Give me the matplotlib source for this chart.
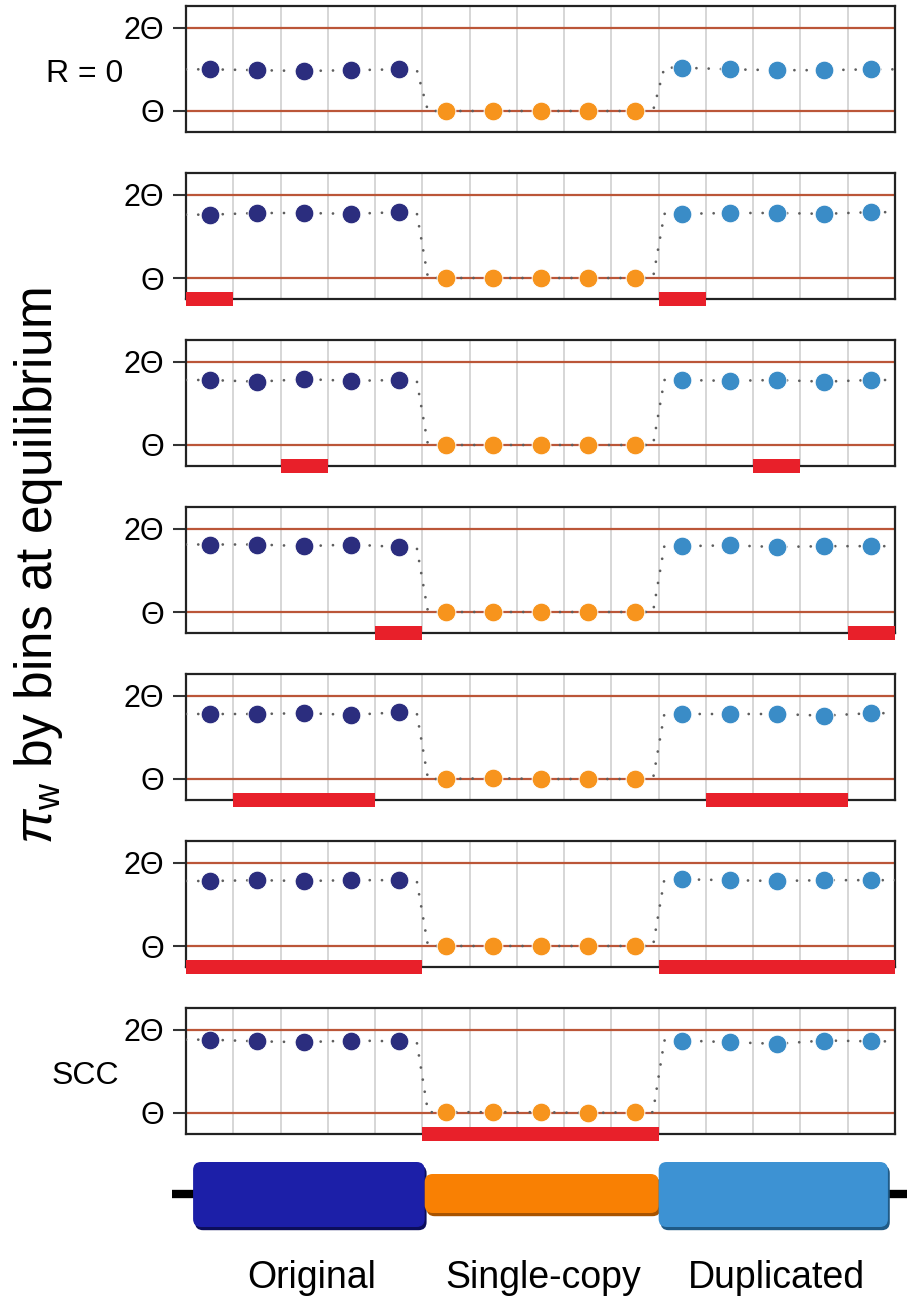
import numpy as np
import matplotlib.pyplot as plt
from matplotlib.patches import Rectangle, FancyBboxPatch

plt.rcParams['font.family'] = ['Liberation Sans', 'DejaVu Sans']
plt.rcParams['mathtext.fontset'] = 'custom'
plt.rcParams['mathtext.rm'] = 'Liberation Sans'
plt.rcParams['mathtext.it'] = 'Liberation Sans:italic'

# pi_w per bin (in units of Theta), one row per recombination scenario
original = [
    [1.50, 1.49, 1.48, 1.49, 1.50],
    [1.76, 1.78, 1.78, 1.77, 1.79],
    [1.78, 1.76, 1.79, 1.77, 1.78],
    [1.81, 1.81, 1.79, 1.81, 1.78],
    [1.78, 1.78, 1.79, 1.77, 1.80],
    [1.78, 1.79, 1.78, 1.79, 1.79],
    [1.88, 1.86, 1.85, 1.87, 1.86],
]
single_copy = [
    [1.00, 1.00, 1.00, 1.00, 1.00],
    [1.00, 1.00, 1.00, 1.00, 1.00],
    [1.00, 1.00, 1.00, 1.00, 1.00],
    [1.00, 1.00, 1.00, 1.00, 1.00],
    [1.00, 1.01, 1.00, 1.00, 1.00],
    [1.00, 1.00, 1.00, 1.00, 1.00],
    [1.01, 1.01, 1.01, 1.00, 1.01],
]
duplicated = [
    [1.52, 1.50, 1.49, 1.49, 1.50],
    [1.77, 1.78, 1.78, 1.77, 1.79],
    [1.78, 1.77, 1.78, 1.76, 1.78],
    [1.79, 1.80, 1.78, 1.79, 1.79],
    [1.78, 1.78, 1.78, 1.76, 1.79],
    [1.80, 1.79, 1.78, 1.79, 1.79],
    [1.87, 1.85, 1.83, 1.87, 1.86],
]
# bins where recombination happens (start, end)
recomb = [
    [],
    [(0, 1), (10, 11)],
    [(2, 3), (12, 13)],
    [(4, 5), (14, 15)],
    [(1, 4), (11, 14)],
    [(0, 5), (10, 15)],
    [(5, 10)],
]
row_labels = {0: 'R = 0', 6: 'SCC'}
region_names = ['Original', 'Single-copy', 'Duplicated']

c_orig = '#2b2d7e'
c_single = '#f7941d'
c_dup = '#3a8cc7'
c_theta = '#bb5638'
c_recomb = '#e8202a'

W, H = 907, 1299
fig = plt.figure(figsize=(W / 100, H / 100), dpi=100)

ax_left = 186 / W
ax_w = (895 - 186) / W
ylo, yhi = 0.748, 2.26

for i in range(7):
    top = 6 + 167 * i
    ax = fig.add_axes([ax_left, 1 - (top + 126) / H, ax_w, 126 / H])
    vals = original[i] + single_copy[i] + duplicated[i]
    xc = np.arange(15) + 0.5

    for g in range(1, 15):
        ax.axvline(g, color='#d0d0d0', lw=1.2, zorder=1)
    ax.axhline(1, color=c_theta, lw=1.6, zorder=2)
    ax.axhline(2, color=c_theta, lw=1.6, zorder=2)

    # dotted profile: flat through each region, steep step at the borders
    lx = [0.0]
    ly = [vals[0]]
    for k in range(15):
        lx.append(xc[k])
        ly.append(vals[k])
        if k in (4, 9):
            lx += [k + 1 - 0.12, k + 1 + 0.12]
            ly += [vals[k], vals[k + 1]]
    lx.append(15.0)
    ly.append(vals[-1])
    ax.plot(lx, ly, color='#5e5e5e', lw=2.0, ls=(0, (0.01, 4.4)),
            dash_capstyle='round', zorder=3)

    for seg, col in zip(range(3), [c_orig, c_single, c_dup]):
        ax.plot(xc[seg * 5:(seg + 1) * 5], vals[seg * 5:(seg + 1) * 5], 'o',
                ms=13.5, color=col, mec='white', mew=0.7, zorder=4)

    for a, b in recomb[i]:
        ax.add_patch(Rectangle((a, ylo - 0.08), b - a, 0.16, color=c_recomb,
                               clip_on=False, zorder=6, lw=0))

    ax.set_xlim(0, 15)
    ax.set_ylim(ylo, yhi)
    ax.set_xticks([])
    ax.set_yticks([1, 2])
    ax.set_yticklabels(['Θ', '2Θ'], fontsize=22)
    ax.tick_params(axis='y', length=9.5, width=1.5, color='#333333', pad=6)
    for s in ax.spines.values():
        s.set_linewidth(1.6)
        s.set_color('#222222')

    if i in row_labels:
        fig.text(85 / W, 1 - (top + 68) / H, row_labels[i], fontsize=23,
                 ha='center', va='center')

fig.text(39 / W, 1 - 565 / H, r'$\pi_{\mathrm{w}}$ by bins at equilibrium',
         rotation=90, fontsize=37, ha='center', va='center')

# gene model under the panels
gax = fig.add_axes([ax_left, 1 - 1235 / H, ax_w, 80 / H])
gax.set_xlim(0, 15)
gax.set_ylim(0, 1)
gax.axis('off')
gax.plot([-0.3, 15.3], [0.5125, 0.5125], color='black', lw=6,
         solid_capstyle='butt', clip_on=False, zorder=1)
boxes = [(0.15, 5.05, 0.10, 0.9125, '#1c1fa8', '#0c0e5c'),
         (5.05, 10.0, 0.275, 0.7625, '#f98003', '#a85300'),
         (10.0, 14.85, 0.10, 0.9125, '#3d92d3', '#1f5a86')]
asp = (ax_w * W / 15) / 80
for x0, x1, y0, y1, fc, sc in boxes:
    for dx, dy, col, z in [(0.04, -0.04, sc, 2), (0, 0, fc, 3)]:
        gax.add_patch(FancyBboxPatch((x0 + dx, y0 + dy), x1 - x0, y1 - y0,
                                     boxstyle='round,pad=0,rounding_size=0.17',
                                     mutation_aspect=asp, fc=col, ec='none',
                                     zorder=z, clip_on=False))

for name, cx in zip(region_names, [312, 543, 776]):
    fig.text(cx / W, 1 - 1288 / H, name, fontsize=27, ha='center', va='baseline')

fig.savefig('out.png', dpi=100)
